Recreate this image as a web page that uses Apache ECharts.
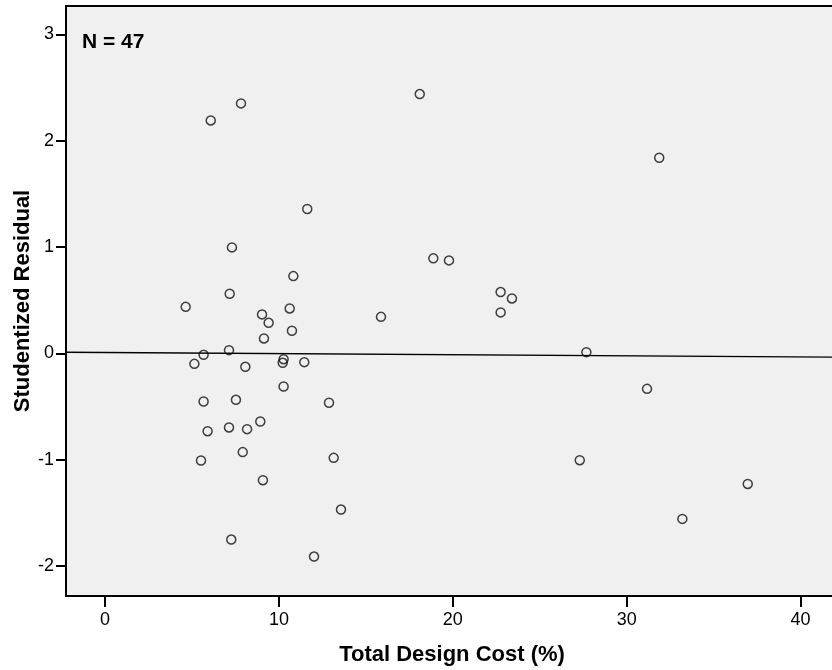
<!DOCTYPE html>
<html>
<head>
<meta charset="utf-8">
<script src="https://cdn.jsdelivr.net/npm/echarts@6/dist/echarts.min.js"></script>
<style>
html,body{margin:0;padding:0;background:#fff;}
#chart{width:832px;height:670px;}
</style>
</head>
<body>
<div id="chart"></div>
<script>
// Total Design Cost (%) for each case
const designCost = [
  6.08, 7.82, 11.63, 7.30, 10.83,
  7.17, 4.64, 9.03, 10.62, 9.41, 10.75, 9.14, 15.87, 7.13, 5.67,
  5.14, 10.27, 10.22, 11.46, 8.07, 10.27, 5.67, 7.53, 12.88, 5.90,
  7.13, 8.17, 8.93, 7.92, 5.52, 13.15, 9.08, 13.57, 7.26, 12.02,
  18.10, 31.87, 18.88, 19.78, 22.75, 23.40, 22.75,
  27.68, 31.17, 27.30, 36.96, 33.20
];
// Studentized residual for each case
const studentizedResidual = [
  2.19, 2.35, 1.357, 0.996, 0.726,
  0.560, 0.437, 0.366, 0.422, 0.287, 0.212, 0.140, 0.343, 0.030, -0.014,
  -0.099, -0.055, -0.089, -0.083, -0.127, -0.312, -0.453, -0.437, -0.465, -0.732,
  -0.697, -0.713, -0.641, -0.929, -1.008, -0.983, -1.193, -1.469, -1.751, -1.911,
  2.438, 1.839, 0.893, 0.874, 0.576, 0.516, 0.385,
  0.011, -0.334, -1.005, -1.228, -1.557
];
// Fit line end points
const fitX = [-2.243, 42.15];
const fitY = [0.010, -0.037];
const xTicks = [0, 10, 20, 30, 40];
const yTicks = [-2, -1, 0, 1, 2, 3];
const nLabel = 'N = 47';

const FONT = "'Liberation Sans', Arial, sans-serif";
const points = designCost.map((x, i) => [x, studentizedResidual[i]]);
const fitLine = fitX.map((x, i) => [x, fitY[i]]);

const chart = echarts.init(document.getElementById('chart'), null, {renderer: 'canvas'});
chart.setOption({
  animation: false,
  backgroundColor: '#ffffff',
  title: {
    text: nLabel,
    left: 82, top: 32,
    padding: 0,
    textStyle: {fontFamily: FONT, fontSize: 21, fontWeight: 'bold', color: '#000'}
  },
  grid: {
    left: 66, top: 6, right: -6, bottom: 74,
    outerBoundsMode: 'none',
    containLabel: false,
    show: true,
    backgroundColor: '#f0f0f0',
    borderColor: '#000',
    borderWidth: 2
  },
  xAxis: {
    type: 'value',
    min: -2.243, max: 42.15,
    name: 'Total Design Cost (%)',
    nameLocation: 'middle',
    nameMoveOverlap: false,
    nameGap: 48,
    nameTextStyle: {fontFamily: FONT, fontSize: 22, fontWeight: 'bold', color: '#000'},
    axisLine: {show: true, onZero: false, lineStyle: {color: '#000', width: 2}},
    axisTick: {show: true, length: 11, lineStyle: {color: '#000', width: 2}, customValues: xTicks},
    axisLabel: {fontFamily: FONT, fontSize: 18, color: '#000', margin: 15, customValues: xTicks},
    splitLine: {show: false}
  },
  yAxis: {
    type: 'value',
    min: -2.282, max: 3.266,
    name: 'Studentized Residual',
    nameLocation: 'middle',
    nameMoveOverlap: false,
    nameGap: 32,
    nameTextStyle: {fontFamily: FONT, fontSize: 22, fontWeight: 'bold', color: '#000'},
    axisLine: {show: true, onZero: false, lineStyle: {color: '#000', width: 2}},
    axisTick: {show: true, length: 10, lineStyle: {color: '#000', width: 2}, customValues: yTicks},
    axisLabel: {fontFamily: FONT, fontSize: 18, color: '#000', margin: 12, customValues: yTicks},
    splitLine: {show: false}
  },
  series: [
    {
      type: 'line',
      data: fitLine,
      showSymbol: false,
      symbol: 'none',
      lineStyle: {color: '#000', width: 1.3},
      silent: true,
      z: 2
    },
    {
      type: 'scatter',
      data: points,
      symbol: 'circle',
      symbolSize: 9,
      itemStyle: {color: 'rgba(0,0,0,0)', borderColor: '#111', borderWidth: 1.5},
      z: 3
    }
  ]
});
</script>
</body>
</html>
